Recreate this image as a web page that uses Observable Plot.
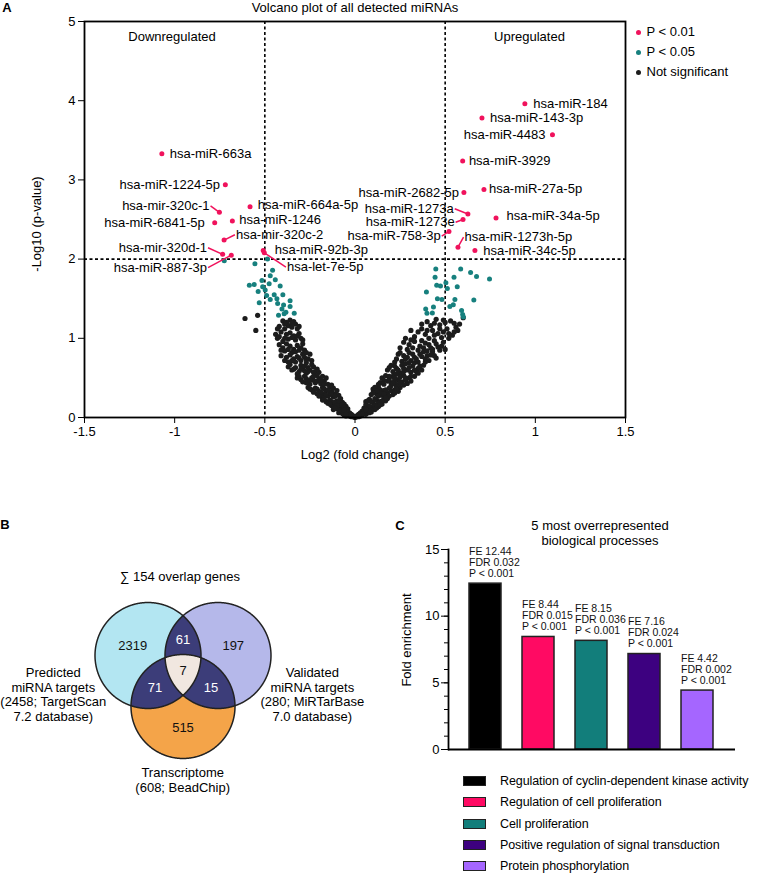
<!DOCTYPE html>
<html><head><meta charset="utf-8">
<script src="https://cdn.jsdelivr.net/npm/d3@7"></script>
<script src="https://cdn.jsdelivr.net/npm/@observablehq/plot@0.6"></script>
<style>
body{margin:0;background:#fff;font-family:"Liberation Sans",Arial,Helvetica,sans-serif;color:#000}
#root{position:relative;width:760px;height:875px;overflow:hidden}
.t{position:absolute;white-space:nowrap;font-size:13px;line-height:14.5px;transform:translate(-50%,-50%);text-align:center}
</style></head><body><div id="root"></div>
<script>
// ---------------- DATA ----------------
// Panel A: volcano plot (log2 fold change, -log10 p)
const notSig = [
[-0.40,1.22],[-0.38,1.20],[-0.36,1.23],[-0.34,1.21],[-0.33,1.18],[-0.37,1.16],[-0.35,1.14],[-0.39,1.12],[-0.42,1.15],[-0.32,1.12],
[-0.44,1.05],[-0.43,1.00],[-0.41,1.08],[-0.38,1.05],[-0.36,1.07],[-0.34,1.03],[-0.31,1.06],[-0.30,1.00],[-0.33,0.98],[-0.40,0.96],[-0.37,0.99],
[-0.42,0.92],[-0.40,0.88],[-0.38,0.93],[-0.36,0.90],[-0.34,0.86],[-0.32,0.91],[-0.30,0.88],[-0.28,0.85],[-0.35,0.82],[-0.39,0.84],[-0.29,0.93],
[-0.41,0.78],[-0.38,0.76],[-0.36,0.79],[-0.34,0.74],[-0.32,0.77],[-0.30,0.72],[-0.28,0.76],[-0.26,0.74],[-0.25,0.80],[-0.37,0.70],[-0.33,0.70],[-0.29,0.80],[-0.27,0.69],
[-0.37,0.64],[-0.35,0.60],[-0.33,0.63],[-0.31,0.58],[-0.29,0.62],[-0.27,0.56],[-0.25,0.60],[-0.23,0.64],[-0.22,0.58],[-0.24,0.67],[-0.30,0.66],[-0.26,0.63],[-0.28,0.59],[-0.32,0.55],[-0.20,0.57],
[-0.32,0.50],[-0.30,0.48],[-0.28,0.52],[-0.26,0.46],[-0.24,0.50],[-0.22,0.44],[-0.20,0.49],[-0.18,0.52],[-0.17,0.46],[-0.25,0.42],[-0.27,0.44],[-0.21,0.53],[-0.19,0.43],[-0.23,0.47],[-0.29,0.45],[-0.16,0.50],[-0.15,0.42],
[-0.26,0.38],[-0.24,0.35],[-0.22,0.37],[-0.20,0.33],[-0.18,0.38],[-0.16,0.34],[-0.14,0.39],[-0.13,0.33],[-0.12,0.37],[-0.21,0.30],[-0.19,0.28],[-0.17,0.30],[-0.15,0.27],[-0.11,0.30],[-0.10,0.34],[-0.23,0.32],[-0.14,0.31],[-0.18,0.25],[-0.09,0.28],[-0.12,0.26],
[-0.18,0.22],[-0.16,0.20],[-0.14,0.22],[-0.12,0.18],[-0.10,0.21],[-0.08,0.24],[-0.07,0.19],[-0.13,0.15],[-0.11,0.14],[-0.09,0.16],[-0.06,0.17],[-0.15,0.18],[-0.08,0.12],[-0.10,0.11],[-0.05,0.14],[-0.12,0.10],[-0.07,0.10],[-0.04,0.11],
[-0.08,0.07],[-0.06,0.06],[-0.05,0.08],[-0.04,0.05],[-0.03,0.06],[-0.02,0.04],[-0.01,0.02],[-0.06,0.03],[-0.03,0.02],[-0.07,0.05],[-0.02,0.01],[-0.05,0.02],[-0.09,0.06],
[-0.43,1.12],[-0.39,1.18],[-0.35,1.19],[-0.31,1.15],[-0.42,1.02],[-0.39,1.00],[-0.35,1.01],[-0.32,1.03],[-0.29,0.98],
[-0.41,0.85],[-0.37,0.86],[-0.33,0.83],[-0.31,0.85],[-0.27,0.82],[-0.39,0.72],[-0.35,0.72],[-0.31,0.75],[-0.27,0.73],[-0.24,0.72],
[-0.36,0.67],[-0.34,0.61],[-0.30,0.61],[-0.26,0.58],[-0.23,0.57],[-0.21,0.61],[-0.28,0.65],
[-0.31,0.52],[-0.27,0.49],[-0.23,0.52],[-0.21,0.46],[-0.19,0.47],[-0.25,0.47],[-0.17,0.42],[-0.13,0.41],
[-0.25,0.36],[-0.21,0.36],[-0.17,0.36],[-0.15,0.35],[-0.19,0.32],[-0.13,0.29],[-0.16,0.28],[-0.11,0.27],[-0.20,0.27],
[-0.17,0.23],[-0.13,0.20],[-0.11,0.19],[-0.09,0.21],[-0.07,0.16],[-0.14,0.17],[-0.10,0.15],[-0.06,0.13],[-0.08,0.09],[-0.11,0.12],[-0.05,0.10],
[-0.07,0.08],[-0.04,0.07],[-0.03,0.04],[-0.06,0.09],[-0.05,0.04],[-0.01,0.01],[-0.02,0.03],
[-0.61,1.25],[-0.54,1.29],[-0.55,1.10],
[0.45,1.24],[0.50,1.20],[0.53,1.22],[0.37,1.18],[0.42,1.16],[0.47,1.17],[0.56,1.14],[0.60,1.26],
[0.31,1.10],[0.35,1.08],[0.39,1.05],[0.43,1.10],[0.46,1.06],[0.49,1.08],[0.51,1.12],[0.54,1.04],[0.57,1.10],[0.33,1.02],[0.41,1.00],[0.48,1.01],[0.52,1.00],
[0.27,0.95],[0.30,0.92],[0.33,0.96],[0.36,0.90],[0.39,0.94],[0.42,0.88],[0.45,0.93],[0.48,0.90],[0.50,0.86],[0.25,0.88],[0.29,0.86],[0.35,0.85],[0.44,0.97],[0.40,0.84],[0.47,0.85],
[0.24,0.80],[0.27,0.78],[0.30,0.82],[0.33,0.76],[0.36,0.80],[0.39,0.74],[0.42,0.79],[0.45,0.75],[0.23,0.74],[0.26,0.71],[0.31,0.72],[0.35,0.70],[0.38,0.83],[0.41,0.72],[0.29,0.76],[0.43,0.83],
[0.20,0.66],[0.23,0.62],[0.26,0.66],[0.29,0.60],[0.32,0.65],[0.35,0.62],[0.38,0.66],[0.21,0.58],[0.25,0.56],[0.28,0.68],[0.31,0.57],[0.34,0.58],[0.37,0.60],[0.18,0.60],[0.27,0.62],[0.33,0.69],
[0.15,0.50],[0.18,0.46],[0.21,0.52],[0.24,0.48],[0.27,0.53],[0.30,0.50],[0.33,0.52],[0.17,0.53],[0.20,0.44],[0.23,0.42],[0.26,0.45],[0.29,0.43],[0.14,0.44],[0.19,0.49],[0.22,0.47],[0.25,0.51],[0.28,0.47],[0.31,0.46],
[0.10,0.36],[0.13,0.38],[0.16,0.34],[0.19,0.37],[0.22,0.35],[0.25,0.38],[0.12,0.30],[0.15,0.28],[0.18,0.31],[0.21,0.29],[0.24,0.33],[0.11,0.33],[0.14,0.35],[0.17,0.26],[0.20,0.40],[0.09,0.29],[0.23,0.39],[0.13,0.27],
[0.06,0.20],[0.08,0.23],[0.10,0.19],[0.12,0.22],[0.14,0.20],[0.16,0.23],[0.18,0.24],[0.07,0.15],[0.09,0.13],[0.11,0.16],[0.13,0.14],[0.15,0.17],[0.05,0.12],[0.08,0.10],[0.10,0.11],[0.12,0.12],[0.17,0.21],[0.06,0.16],
[0.02,0.04],[0.03,0.06],[0.04,0.08],[0.05,0.05],[0.06,0.07],[0.07,0.09],[0.01,0.02],[0.03,0.02],[0.04,0.03],[0.06,0.04],[0.08,0.06],[0.02,0.01],[0.09,0.07],[0.05,0.09],[0.00,0.00],
[0.40,1.21],[0.44,1.19],[0.49,1.23],[0.55,1.19],[0.58,1.18],[0.37,1.12],[0.40,1.10],[0.44,1.04],[0.47,1.12],[0.52,1.06],[0.55,1.08],
[0.28,1.00],[0.31,0.98],[0.37,0.97],[0.41,0.92],[0.46,0.89],[0.49,0.95],[0.32,0.88],[0.38,0.88],[0.43,0.86],
[0.25,0.82],[0.28,0.74],[0.32,0.80],[0.34,0.74],[0.37,0.77],[0.40,0.78],[0.44,0.78],[0.22,0.70],[0.30,0.69],[0.39,0.70],
[0.19,0.63],[0.22,0.65],[0.24,0.60],[0.27,0.58],[0.30,0.63],[0.33,0.60],[0.36,0.65],[0.23,0.55],[0.35,0.56],
[0.16,0.47],[0.19,0.52],[0.22,0.50],[0.25,0.44],[0.28,0.50],[0.31,0.52],[0.16,0.42],[0.21,0.43],[0.27,0.41],[0.13,0.42],
[0.11,0.38],[0.14,0.32],[0.17,0.35],[0.20,0.34],[0.23,0.36],[0.16,0.30],[0.19,0.27],[0.22,0.31],[0.12,0.34],[0.10,0.31],
[0.07,0.21],[0.09,0.20],[0.11,0.24],[0.13,0.18],[0.15,0.21],[0.17,0.25],[0.08,0.14],[0.12,0.15],[0.14,0.16],[0.06,0.11],[0.11,0.10],[0.09,0.09],
[0.03,0.04],[0.05,0.07],[0.07,0.06],[0.04,0.05],[0.08,0.08],[0.06,0.10],[0.02,0.03],[0.01,0.01]
];
const sig05 = [
[-0.725,1.98],[-0.555,1.94],[-0.485,2.00],[-0.457,1.86],[-0.47,1.79],[-0.442,1.74],[-0.586,1.67],[-0.559,1.68],[-0.516,1.73],[-0.512,1.65],
[-0.476,1.69],[-0.415,1.66],[-0.537,1.59],[-0.49,1.54],[-0.448,1.55],[-0.40,1.55],[-0.47,1.49],[-0.433,1.50],[-0.531,1.45],[-0.429,1.44],
[-0.396,1.42],[-0.36,1.475],[-0.36,1.40],[-0.405,1.37],[-0.383,1.33],[-0.337,1.315],[-0.424,1.29],[-0.393,1.31],[-0.498,1.61],
[0.448,1.875],[0.586,1.875],[0.641,1.83],[0.674,1.78],[0.746,1.75],[0.444,1.77],[0.549,1.77],[0.453,1.67],[0.474,1.66],[0.504,1.70],
[0.512,1.63],[0.567,1.65],[0.396,1.585],[0.457,1.50],[0.482,1.49],[0.554,1.49],[0.659,1.485],[0.545,1.425],[0.526,1.40],[0.392,1.37],
[0.435,1.395],[0.429,1.32],[0.399,1.315],[0.591,1.35],[0.597,1.30],[0.601,1.27]
];
const sig01Names = ["hsa-miR-663a","hsa-miR-1224-5p","hsa-mir-320c-1","hsa-miR-664a-5p","hsa-miR-6841-5p","hsa-miR-1246","hsa-mir-320c-2","hsa-mir-320d-1","hsa-miR-887-3p","hsa-miR-92b-3p","hsa-let-7e-5p",
"hsa-miR-184","hsa-miR-143-3p","hsa-miR-4483","hsa-miR-3929","hsa-miR-2682-5p","hsa-miR-27a-5p","hsa-miR-1273a","hsa-miR-1273e","hsa-miR-34a-5p","hsa-miR-758-3p","hsa-miR-1273h-5p","hsa-miR-34c-5p"];
const sig01X = [-1.071,-0.719,-0.752,-0.582,-0.778,-0.680,-0.726,-0.734,-0.686,-0.509,-0.503,0.942,0.704,1.095,0.597,0.604,0.715,0.626,0.599,0.782,0.521,0.571,0.665];
const sig01Y = [3.33,2.94,2.59,2.66,2.46,2.48,2.24,2.06,2.05,2.11,2.08,3.96,3.78,3.57,3.24,2.84,2.88,2.57,2.50,2.52,2.35,2.15,2.11];
const xTicksA = [-1.5,-1,-0.5,0,0.5,1,1.5];
const yTicksA = [0,1,2,3,4,5];
const legendA = ["P < 0.01","P < 0.05","Not significant"];

// Panel B: Venn diagram
const vennRegions = ["L","R","B","LR","LB","RB","LRB"];
const vennCounts  = [2319,197,515,61,71,15,7];

// Panel C: enrichment
const processes = ["Regulation of cyclin-dependent kinase activity","Regulation of cell proliferation","Cell proliferation","Positive regulation of signal transduction","Protein phosphorylation"];
const foldEnrichment = [12.44,8.44,8.15,7.16,4.42];
const fdrValues = ["0.032","0.015","0.036","0.024","0.002"];
const pLabels = ["P < 0.001","P < 0.001","P < 0.001","P < 0.001","P < 0.001"];

// ---------------- LAYOUT / STYLE ----------------
const FONT = '"Liberation Sans",Arial,Helvetica,sans-serif';
const PINK = "#f0125c", TEAL = "#17807e", BLACK = "#1c1c1c";
// label anchor points (data units) and side for panel A labels
const labelLayout = {
 "hsa-miR-663a":[-1.033,3.333,"start",false],
 "hsa-miR-1224-5p":[-0.743,2.938,"end",false],
 "hsa-mir-320c-1":[-0.801,2.673,"end",true],
 "hsa-miR-664a-5p":[-0.545,2.69,"start",false],
 "hsa-miR-6841-5p":[-0.828,2.459,"end",false],
 "hsa-miR-1246":[-0.647,2.493,"start",false],
 "hsa-mir-320c-2":[-0.666,2.308,"start",true],
 "hsa-mir-320d-1":[-0.815,2.144,"end",true],
 "hsa-miR-887-3p":[-0.815,1.892,"end",true],
 "hsa-miR-92b-3p":[-0.451,2.115,"start",false],
 "hsa-let-7e-5p":[-0.383,1.898,"start",true],
 "hsa-miR-184":[0.983,3.956,"start",false],
 "hsa-miR-143-3p":[0.743,3.783,"start",false],
 "hsa-miR-4483":[1.062,3.573,"end",false],
 "hsa-miR-3929":[0.626,3.241,"start",false],
 "hsa-miR-2682-5p":[0.582,2.841,"end",false],
 "hsa-miR-27a-5p":[0.737,2.884,"start",false],
 "hsa-miR-1273a":[0.553,2.636,"end",true],
 "hsa-miR-1273e":[0.558,2.465,"end",true],
 "hsa-miR-34a-5p":[0.835,2.547,"start",false],
 "hsa-miR-758-3p":[0.481,2.289,"end",true],
 "hsa-miR-1273h-5p":[0.602,2.276,"start",true],
 "hsa-miR-34c-5p":[0.706,2.106,"start",false]
};

const root = document.getElementById("root");
function place(el, left, top){ el.style.position="absolute"; el.style.left=left+"px"; el.style.top=top+"px"; root.appendChild(el); return el; }
function txt(html, x, y, extra){ const d=document.createElement("div"); d.className="t"; d.innerHTML=html; d.style.left=x+"px"; d.style.top=y+"px"; if(extra) Object.assign(d.style, extra); root.appendChild(d); return d; }

// ---------------- PANEL A ----------------
const nsData = notSig.map(([x,y])=>({x,y}));
const s05Data = sig05.map(([x,y])=>({x,y}));
const s01Data = sig01Names.map((name,i)=>{ const L=labelLayout[name]; return {name, x:sig01X[i], y:sig01Y[i], lx:L[0], ly:L[1], side:L[2], line:L[3]}; });

const plotA = Plot.plot({
  width:760, height:470, marginLeft:84, marginRight:135, marginTop:21, marginBottom:53,
  style:{fontFamily:FONT, fontSize:"13px", background:"transparent", color:"#000", overflow:"visible"},
  x:{domain:[-1.5,1.5], label:null},
  y:{domain:[0,5], label:null},
  marks:[
    Plot.ruleX([-0.5,0.5],{stroke:"#000", strokeWidth:1.6, strokeDasharray:"3,2.5"}),
    Plot.ruleY([2],{stroke:"#000", strokeWidth:1.6, strokeDasharray:"3,2.5"}),
    Plot.dot(nsData,{x:"x",y:"y",r:2.6,fill:BLACK,stroke:"none"}),
    Plot.dot(s05Data,{x:"x",y:"y",r:2.5,fill:TEAL,stroke:"none"}),
    Plot.link(s01Data.filter(d=>d.line),{x1:"x",y1:"y",x2:"lx",y2:"ly",stroke:PINK,strokeWidth:1.5}),
    Plot.dot(s01Data,{x:"x",y:"y",r:2.5,fill:PINK,stroke:"none"}),
    Plot.text(s01Data.filter(d=>d.side==="start"),{x:"lx",y:"ly",text:"name",textAnchor:"start",dx:1,fontSize:13,fill:"#000"}),
    Plot.text(s01Data.filter(d=>d.side==="end"),{x:"lx",y:"ly",text:"name",textAnchor:"end",dx:-1,fontSize:13,fill:"#000"}),
    Plot.frame({stroke:"#000", strokeWidth:1.8}),
    Plot.axisX({ticks:xTicksA, tickSize:6, tickPadding:3, tickFormat:d=>String(d), label:null, fontSize:13}),
    Plot.axisY({ticks:yTicksA, tickSize:6, tickPadding:3, tickFormat:d=>String(d), label:null, fontSize:13})
  ]
});
const wa=document.createElement("div"); wa.appendChild(plotA); place(wa,0,0);

txt("<b>A</b>",7,8,{fontSize:"13px"});
txt("Volcano plot of all detected miRNAs",355,8);
txt("Downregulated",172,37);
txt("Upregulated",529.5,37);
txt("Log2 (fold change)",355,455);
txt("-Log10 (p-value)",37,224,{transform:"translate(-50%,-50%) rotate(-90deg)"});
const legCols=[PINK,TEAL,BLACK];
legendA.forEach((lab,i)=>{
  const y=32.3+i*19.9;
  const dot=document.createElement("div");
  Object.assign(dot.style,{width:"5px",height:"5px",borderRadius:"50%",background:legCols[i]});
  place(dot,635.8,y-2.5);
  const t=document.createElement("div"); t.textContent=lab; Object.assign(t.style,{fontSize:"13px",lineHeight:"14px",whiteSpace:"nowrap"});
  place(t,646.5,y-7.5);
});

// ---------------- PANEL B ----------------
const BW=370, BH=320, BTOP=500;
const vennCircles=[
  {key:"L",cx:147.5,cy:155,r:53,fill:"#b3e6f2"},
  {key:"R",cx:217.5,cy:155,r:53,fill:"#b5b8ea"},
  {key:"B",cx:182.5,cy:206,r:52,fill:"#f4a449"}
];
function regionPoly(keys){
  const cs=vennCircles.filter(c=>keys.includes(c.key));
  const sx=d3.mean(cs,c=>c.cx), sy=d3.mean(cs,c=>c.cy);
  const pts=[];
  for(let k=0;k<720;k++){
    const a=k*Math.PI/360, ux=Math.cos(a), uy=Math.sin(a);
    let tmin=Infinity;
    for(const c of cs){ const px=sx-c.cx, py=sy-c.cy; const b=ux*px+uy*py; const cc=px*px+py*py-c.r*c.r; tmin=Math.min(tmin,-b+Math.sqrt(b*b-cc)); }
    pts.push({x:sx+ux*tmin,y:sy+uy*tmin});
  }
  return pts;
}
// region centroids from grid membership
const acc={}; vennRegions.forEach(r=>acc[r]={sx:0,sy:0,n:0});
for(let x=60;x<=300;x+=0.5) for(let y=80;y<=280;y+=0.5){
  let key=""; for(const c of vennCircles){ if((x-c.cx)**2+(y-c.cy)**2<=c.r*c.r) key+=c.key; }
  if(acc[key]){acc[key].sx+=x;acc[key].sy+=y;acc[key].n++;}
}
const darkRegions=["LR","LB","RB"];
const vennLabels=vennRegions.map((r,i)=>({region:r,count:vennCounts[i],x:acc[r].sx/acc[r].n,y:acc[r].sy/acc[r].n,dark:darkRegions.includes(r)}));
const NAVY="#3c3d79", BEIGE="#f1e7e0";
const vennMarks=[];
vennCircles.forEach(c=>vennMarks.push(Plot.line(regionPoly([c.key]),{x:"x",y:"y",fill:c.fill,stroke:"none",curve:"linear-closed"})));
[["L","R"],["L","B"],["R","B"]].forEach(p=>vennMarks.push(Plot.line(regionPoly(p),{x:"x",y:"y",fill:NAVY,stroke:"none",curve:"linear-closed"})));
vennMarks.push(Plot.line(regionPoly(["L","R","B"]),{x:"x",y:"y",fill:BEIGE,stroke:"none",curve:"linear-closed"}));
vennCircles.forEach(c=>vennMarks.push(Plot.line(regionPoly([c.key]),{x:"x",y:"y",fill:"none",stroke:"#222",strokeWidth:1.5,curve:"linear-closed"})));
vennMarks.push(Plot.text(vennLabels.filter(d=>!d.dark),{x:"x",y:"y",text:d=>String(d.count),fill:"#111",fontSize:13}));
vennMarks.push(Plot.text(vennLabels.filter(d=>d.dark),{x:"x",y:"y",text:d=>String(d.count),fill:"#fff",fontSize:13}));
const plotB=Plot.plot({
  width:BW,height:BH,margin:0,
  style:{fontFamily:FONT,fontSize:"13px",background:"transparent",overflow:"visible"},
  x:{domain:[0,BW],range:[0,BW],axis:null},
  y:{domain:[0,BH],range:[0,BH],axis:null},
  marks:vennMarks
});
const wb=document.createElement("div"); wb.style.width=BW+"px"; wb.appendChild(plotB); place(wb,0,BTOP);

txt("<b>B</b>",5,525);
txt("∑ 154 overlap genes",180,577);
txt("Predicted<br>miRNA targets<br>(2458; TargetScan<br>7.2 database)",53.3,695);
txt("Validated<br>miRNA targets<br>(280; MiRTarBase<br>7.0 database)",312.3,695);
txt("Transcriptome<br>(608; BeadChip)",182.7,780);

// ---------------- PANEL C ----------------
const procColors=["#000000","#ff0a63","#127e7b","#3d0180","#a566ff"];
const rowsC=processes.map((p,i)=>({process:p,fe:foldEnrichment[i],fdr:fdrValues[i],p:pLabels[i]}));
const plotC=Plot.plot({
  width:380,height:265,marginLeft:68,marginRight:25,marginTop:49,marginBottom:16,
  style:{fontFamily:FONT,fontSize:"13px",background:"transparent",overflow:"visible"},
  x:{domain:processes,paddingInner:0.395,paddingOuter:0.37,axis:null},
  y:{domain:[0,15],label:null},
  color:{domain:processes,range:procColors},
  marks:[
    Plot.barY(rowsC,{x:"process",y:"fe",fill:"process",stroke:"#222",strokeWidth:1.5}),
    Plot.text(rowsC,{x:"process",y:"fe",text:d=>`FE ${d.fe.toFixed(2)}\nFDR ${d.fdr}\n${d.p}`,textAnchor:"start",lineAnchor:"bottom",dx:-16.5,dy:-7,fontSize:10.5,lineHeight:1.05,fill:"#111"}),
    Plot.ruleY([0],{stroke:"#000",strokeWidth:1.8}),
    Plot.frame({anchor:"left",stroke:"#000",strokeWidth:1.8}),
    Plot.axisY({ticks:d3.range(0,16),tickSize:4,tickFormat:()=>"",label:null}),
    Plot.axisY({ticks:[0,5,10,15],tickSize:7,tickPadding:2,tickFormat:d=>String(d),label:null,fontSize:13})
  ]
});
const wc=document.createElement("div"); wc.style.width="380px"; wc.appendChild(plotC); place(wc,380,500);

txt("<b>C</b>",400,526);
txt("5 most overrepresented<br>biological processes",600,533.3);
txt("Fold enrichment",406.5,640,{transform:"translate(-50%,-50%) rotate(-90deg)"});
processes.forEach((p,i)=>{
  const y=781.7+i*21.25;
  const sw=document.createElement("div");
  Object.assign(sw.style,{width:"21px",height:"8px",background:procColors[i],border:"1.5px solid #222"});
  place(sw,463,y-5.5);
  const t=document.createElement("div"); t.textContent=p; Object.assign(t.style,{fontSize:"12.5px",lineHeight:"14px",whiteSpace:"nowrap",letterSpacing:"-0.1px"});
  place(t,500,y-7.5);
});
</script></body></html>
